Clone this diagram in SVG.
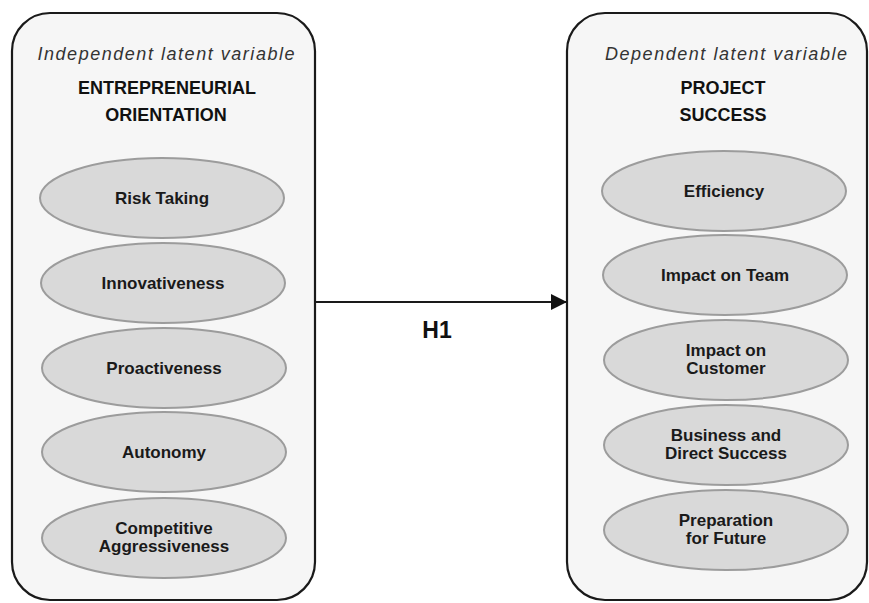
<svg xmlns="http://www.w3.org/2000/svg" width="869" height="603" viewBox="0 0 869 603">
<defs>
<style>
.box{fill:#f6f6f6;stroke:#1a1a1a;stroke-width:2.2}
.ell{fill:#d9d9d9;stroke:#9c9c9c;stroke-width:2}
.lbl{font-family:"Liberation Sans",Arial,sans-serif;font-weight:bold;font-size:17px;fill:#1a1a1a;text-anchor:middle}
.ital{font-family:"Liberation Sans",Arial,sans-serif;font-style:italic;font-size:18px;fill:#333;text-anchor:middle}
.ttl{font-family:"Liberation Sans",Arial,sans-serif;font-weight:bold;font-size:18px;fill:#111;text-anchor:middle}
.conn{stroke:#1a1a1a;stroke-width:2.2;fill:none}
</style>
<marker id="arr" viewBox="0 0 10 10" refX="10" refY="5" markerWidth="16" markerHeight="16" markerUnits="userSpaceOnUse" orient="auto">
<path d="M0,0 L10,5 L0,10 z" fill="#111"/>
</marker>
</defs>
<rect x="0" y="0" width="869" height="603" fill="#fff"/>
<g id="eo">
<rect class="box" x="12" y="13" width="303" height="587" rx="38" ry="38"/>
<text class="ital" x="166" y="60" textLength="257" lengthAdjust="spacing">Independent latent variable</text>
<text class="ttl" x="167" y="94">ENTREPRENEURIAL</text>
<text class="ttl" x="166" y="121">ORIENTATION</text>
</g>
<g id="risk"><ellipse class="ell" cx="162" cy="198" rx="122" ry="40"/><text class="lbl" x="162" y="204">Risk Taking</text></g>
<g id="innov"><ellipse class="ell" cx="163" cy="283" rx="122" ry="40"/><text class="lbl" x="163" y="289">Innovativeness</text></g>
<g id="proact"><ellipse class="ell" cx="164" cy="368" rx="122" ry="40"/><text class="lbl" x="164" y="374">Proactiveness</text></g>
<g id="auto"><ellipse class="ell" cx="164" cy="452" rx="122" ry="40"/><text class="lbl" x="164" y="458">Autonomy</text></g>
<g id="comp"><ellipse class="ell" cx="164" cy="538" rx="122" ry="40"/><text class="lbl" x="164" y="534">Competitive</text><text class="lbl" x="164" y="552">Aggressiveness</text></g>
<g id="ps">
<rect class="box" x="567" y="13" width="300" height="587" rx="38" ry="38"/>
<text class="ital" x="726" y="60" textLength="242" lengthAdjust="spacing">Dependent latent variable</text>
<text class="ttl" x="723" y="94">PROJECT</text>
<text class="ttl" x="723" y="121">SUCCESS</text>
</g>
<g id="eff"><ellipse class="ell" cx="724" cy="191" rx="122" ry="40"/><text class="lbl" x="724" y="197">Efficiency</text></g>
<g id="team"><ellipse class="ell" cx="725" cy="275" rx="122" ry="40"/><text class="lbl" x="725" y="281">Impact on Team</text></g>
<g id="cust"><ellipse class="ell" cx="726" cy="360" rx="122" ry="40"/><text class="lbl" x="726" y="356">Impact on</text><text class="lbl" x="726" y="374">Customer</text></g>
<g id="bus"><ellipse class="ell" cx="726" cy="445" rx="122" ry="40"/><text class="lbl" x="726" y="441">Business and</text><text class="lbl" x="726" y="459">Direct Success</text></g>
<g id="prep"><ellipse class="ell" cx="726" cy="530" rx="122" ry="40"/><text class="lbl" x="726" y="526">Preparation</text><text class="lbl" x="726" y="544">for Future</text></g>
<g id="connectors">
<line class="conn" x1="316" y1="302" x2="567" y2="302" marker-end="url(#arr)"/>
<text class="ttl" x="437" y="338" style="font-size:23px">H1</text>
</g>
</svg>
